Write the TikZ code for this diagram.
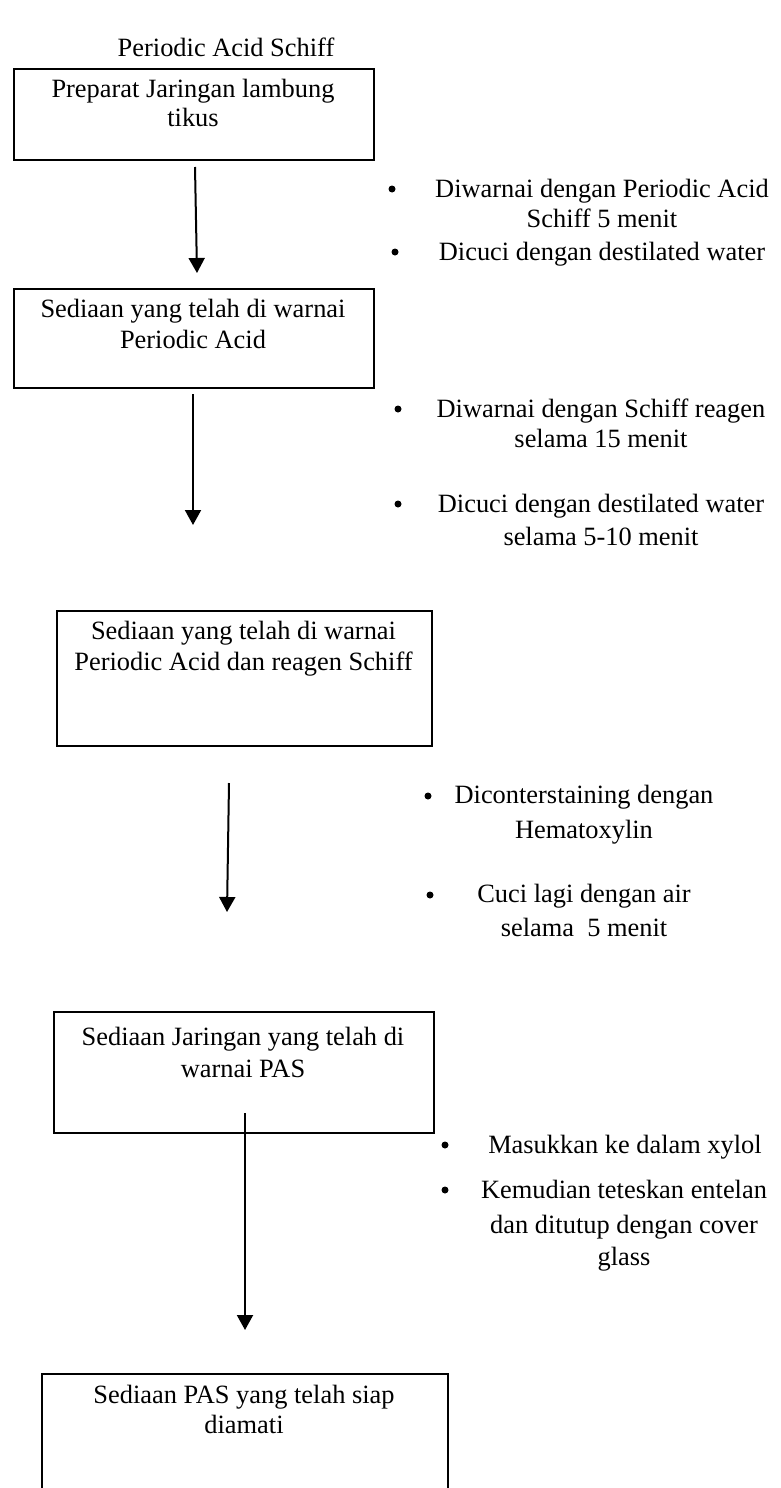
\documentclass[tikz,border=0pt]{standalone}
\usepackage{fontspec}
\setmainfont{Liberation Serif}
\usetikzlibrary{arrows.meta}
\begin{document}
\begin{tikzpicture}[x=1pt,y=-1pt,
  box/.style={draw,line width=2pt,anchor=north west,inner sep=0pt},
  txt/.style={font=\fontsize{26.4}{30}\selectfont,anchor=base,inner sep=0pt},
  blt/.style={circle,fill,inner sep=0pt,minimum size=7pt},
  arr/.style={line width=2pt,-{Triangle[width=16pt,length=15pt]}}]
\useasboundingbox (0,0) rectangle (780,1488);
\clip (0,0) rectangle (780,1488);

% title
\node[txt] (title) at (226,57) {Periodic Acid Schiff};

% boxes
\node[box,minimum width=360pt,minimum height=91pt] (b1) at (13,68) {};
\node[box,minimum width=360pt,minimum height=99pt] (b2) at (13,288) {};
\node[box,minimum width=375pt,minimum height=135pt] (b3) at (56,610) {};
\node[box,minimum width=380pt,minimum height=121pt] (b4) at (53,1011) {};
\node[box,minimum width=406pt,minimum height=140pt] (b5) at (41,1373) {};

% box texts
\node[txt] (t1a) at (193,97) {Preparat Jaringan lambung};
\node[txt] (t1b) at (193,126) {tikus};
\node[txt] (t2a) at (193,317) {Sediaan yang telah di warnai};
\node[txt] (t2b) at (193,348) {Periodic Acid};
\node[txt] (t3a) at (243.5,639) {Sediaan yang telah di warnai};
\node[txt] (t3b) at (243.5,670) {Periodic Acid dan reagen Schiff};
\node[txt] (t4a) at (243,1045) {Sediaan Jaringan yang telah di};
\node[txt] (t4b) at (243,1077) {warnai PAS};
\node[txt] (t5a) at (244,1403) {Sediaan PAS yang telah siap};
\node[txt] (t5b) at (244,1433) {diamati};

% arrows
\coordinate (a1s) at (195,167); \coordinate (a1e) at (197,273);
\coordinate (a2s) at (193,394); \coordinate (a2e) at (193,525);
\coordinate (a3s) at (229,783); \coordinate (a3e) at (227,912);
\coordinate (a4s) at (245,1113); \coordinate (a4e) at (245,1330);
\draw[arr] (a1s) -- (a1e);
\draw[arr] (a2s) -- (a2e);
\draw[arr] (a3s) -- (a3e);
\draw[arr] (a4s) -- (a4e);

% step notes 1
\node[blt] (p1a) at (392,189) {};
\node[txt] (s1a) at (602,197) {Diwarnai dengan Periodic Acid};
\node[txt] (s1b) at (602,227) {Schiff 5 menit};
\node[blt] (p1b) at (395,252) {};
\node[txt] (s1c) at (602,260) {Dicuci dengan destilated water};

% step notes 2
\node[blt] (p2a) at (398,409) {};
\node[txt] (s2a) at (601,417) {Diwarnai dengan Schiff reagen};
\node[txt] (s2b) at (601,447) {selama 15 menit};
\node[blt] (p2b) at (398,504) {};
\node[txt] (s2c) at (601,512) {Dicuci dengan destilated water};
\node[txt] (s2d) at (601,545) {selama 5-10 menit};

% step notes 3
\node[blt] (p3a) at (428,796) {};
\node[txt] (s3a) at (584,803) {Diconterstaining dengan};
\node[txt] (s3b) at (584,838) {Hematoxylin};
\node[blt] (p3b) at (430,895) {};
\node[txt] (s3c) at (584,902) {Cuci lagi dengan air};
\node[txt] (s3d) at (584,936) {selama~~5 menit};

% step notes 4
\node[blt] (p4a) at (445,1145) {};
\node[txt] (s4a) at (625,1153) {Masukkan ke dalam xylol};
\node[blt] (p4b) at (445,1190) {};
\node[txt] (s4b) at (624,1198) {Kemudian teteskan entelan};
\node[txt] (s4c) at (624,1233) {dan ditutup dengan cover};
\node[txt] (s4d) at (624,1265) {glass};
\end{tikzpicture}
\end{document}
